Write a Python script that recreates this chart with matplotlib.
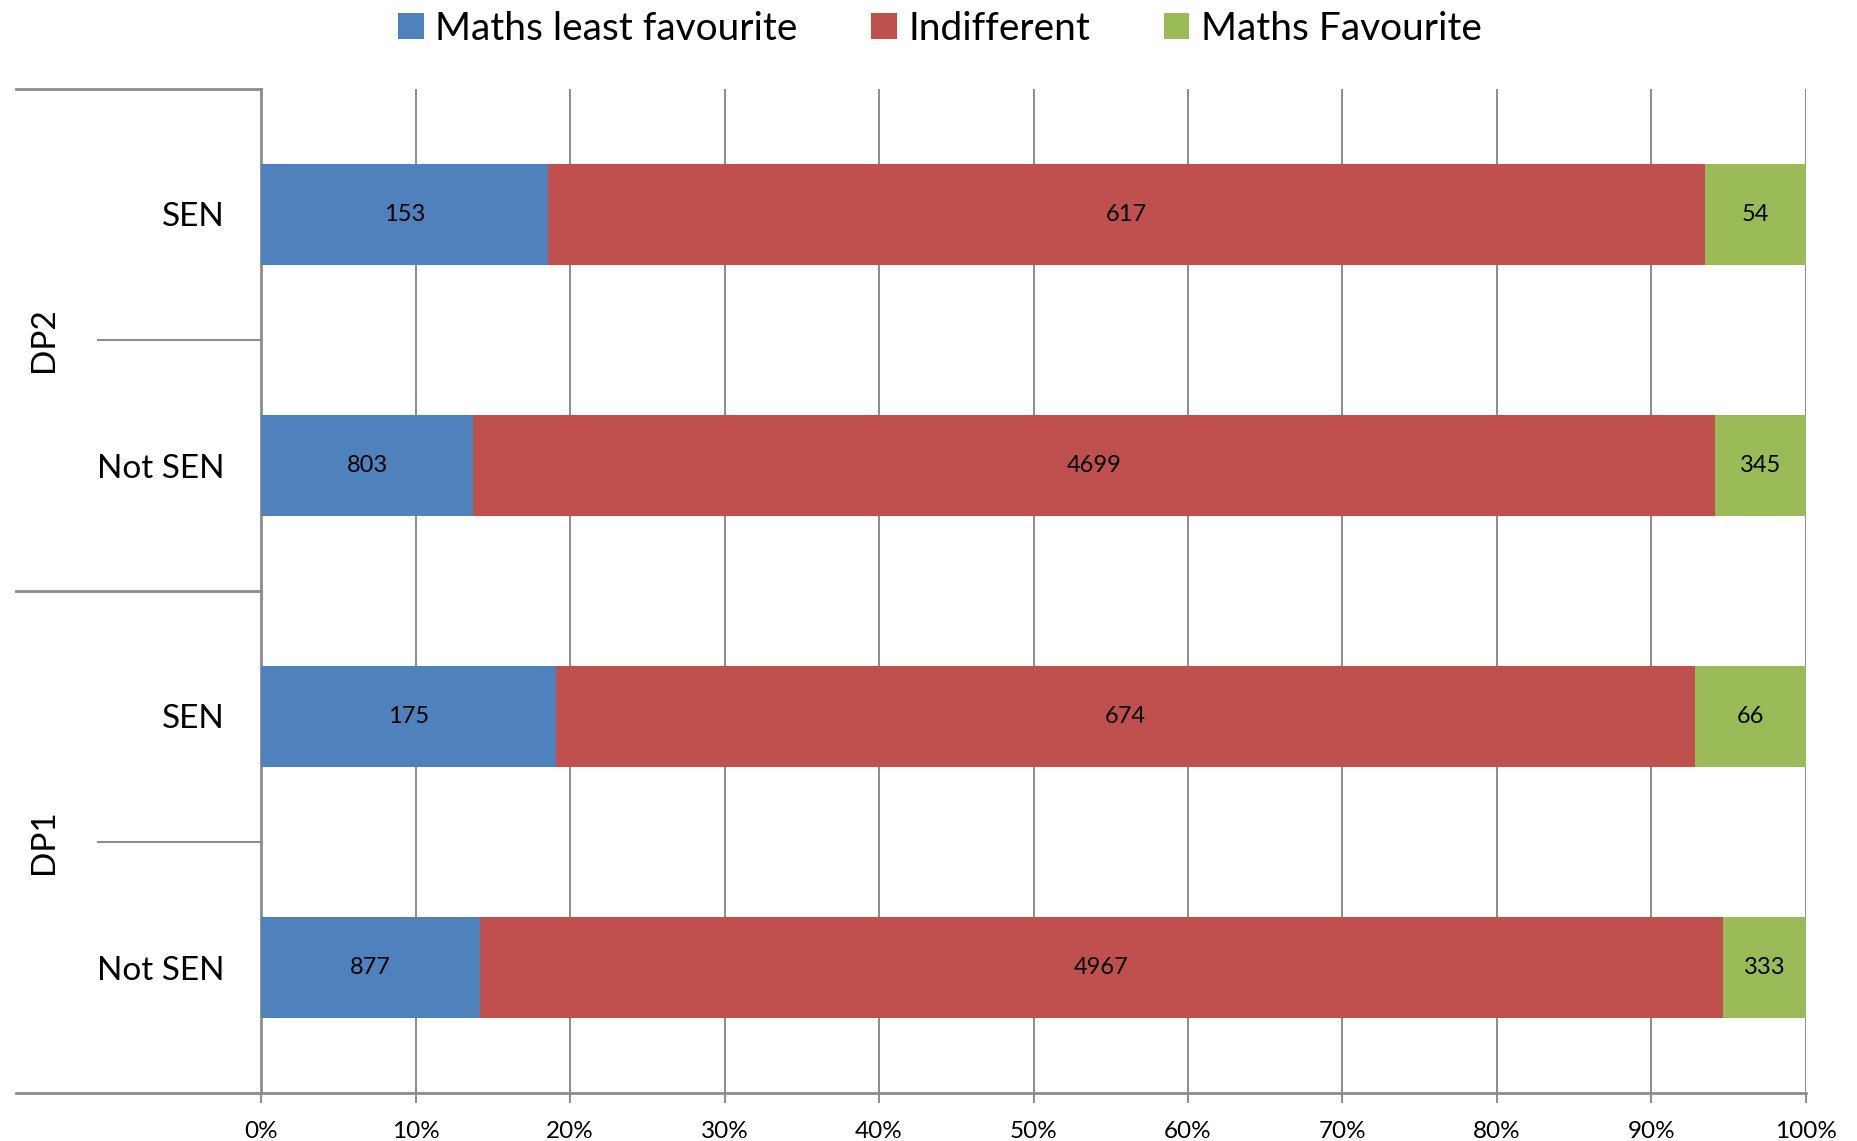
import matplotlib
matplotlib.use("Agg")
import matplotlib.pyplot as plt
import matplotlib.transforms as mtransforms
from matplotlib.patches import Patch
import numpy as np

plt.rcParams['font.family'] = ['Lato', 'DejaVu Sans']

# Data (bottom to top)
groups = ["DP1", "DP2"]
categories = ["Not SEN", "SEN", "Not SEN", "SEN"]
group_of = ["DP1", "DP1", "DP2", "DP2"]
series_names = ["Maths least favourite", "Indifferent", "Maths Favourite"]
least = [877, 175, 803, 153]
indifferent = [4967, 674, 4699, 617]
favourite = [333, 66, 345, 54]
colors = ["#4F81BD", "#C0504D", "#9BBB59"]
xticks = [0, 10, 20, 30, 40, 50, 60, 70, 80, 90, 100]

W, H = 1858, 1141
fig = plt.figure(figsize=(W / 100, H / 100), dpi=100)
ax = fig.add_axes([261 / W, 1 - 1093 / H, (1806 - 261) / W, (1093 - 89) / H])

counts = np.array([least, indifferent, favourite], dtype=float)
totals = counts.sum(axis=0)
pct = counts / totals * 100
y = np.arange(len(categories))
left = np.zeros(len(categories))
for i in range(3):
    ax.barh(y, pct[i], left=left, height=0.4, color=colors[i], zorder=3,
            label=series_names[i])
    for j in range(len(categories)):
        ax.text(left[j] + pct[i][j] / 2, y[j], f"{int(counts[i][j])}",
                ha="center", va="center", fontsize=17, color="black", zorder=4)
    left += pct[i]

ax.set_xlim(0, 100)
ax.set_ylim(-0.5, len(categories) - 0.5)
ax.set_xticks(xticks)
ax.set_xticklabels([f"{t}%" for t in xticks], fontsize=17.5)
ax.xaxis.grid(True, color="#8C8C8C", linewidth=1.4, zorder=0)
ax.set_yticks(y)
ax.set_yticklabels(categories, fontsize=24)
ax.tick_params(axis="y", length=0, pad=26)
ax.tick_params(axis="x", length=7, width=1.4, color="#8C8C8C", pad=13)
for s in ["top", "right"]:
    ax.spines[s].set_visible(False)
for s in ["left", "bottom"]:
    ax.spines[s].set_color("#8C8C8C")
    ax.spines[s].set_linewidth(2)

# Category separators
trans = mtransforms.blended_transform_factory(fig.transFigure, ax.transData)
for yy in [-0.5, 1.5, 3.5]:
    ax.plot([16 / W, 261 / W], [yy, yy], transform=trans, color="#8C8C8C",
            linewidth=2, clip_on=False)
for yy in [0.5, 2.5]:
    ax.plot([98 / W, 261 / W], [yy, yy], transform=trans, color="#8C8C8C",
            linewidth=1.5, clip_on=False)
for gi, g in enumerate(groups):
    idx = [k for k, gg in enumerate(group_of) if gg == g]
    yc = np.mean(idx)
    ax.text(44 / W, yc, g, transform=trans, rotation=90, ha="center",
            va="center", fontsize=24)

handles = [Patch(facecolor=c, edgecolor="none") for c in colors]
fig.legend(handles, series_names, loc="center", bbox_to_anchor=(0.506, 1 - 29 / H),
           ncol=3, frameon=False, fontsize=28, handlelength=0.65,
           handleheight=0.65, handletextpad=0.3, columnspacing=1.9)

fig.savefig("out.png", dpi=100)
